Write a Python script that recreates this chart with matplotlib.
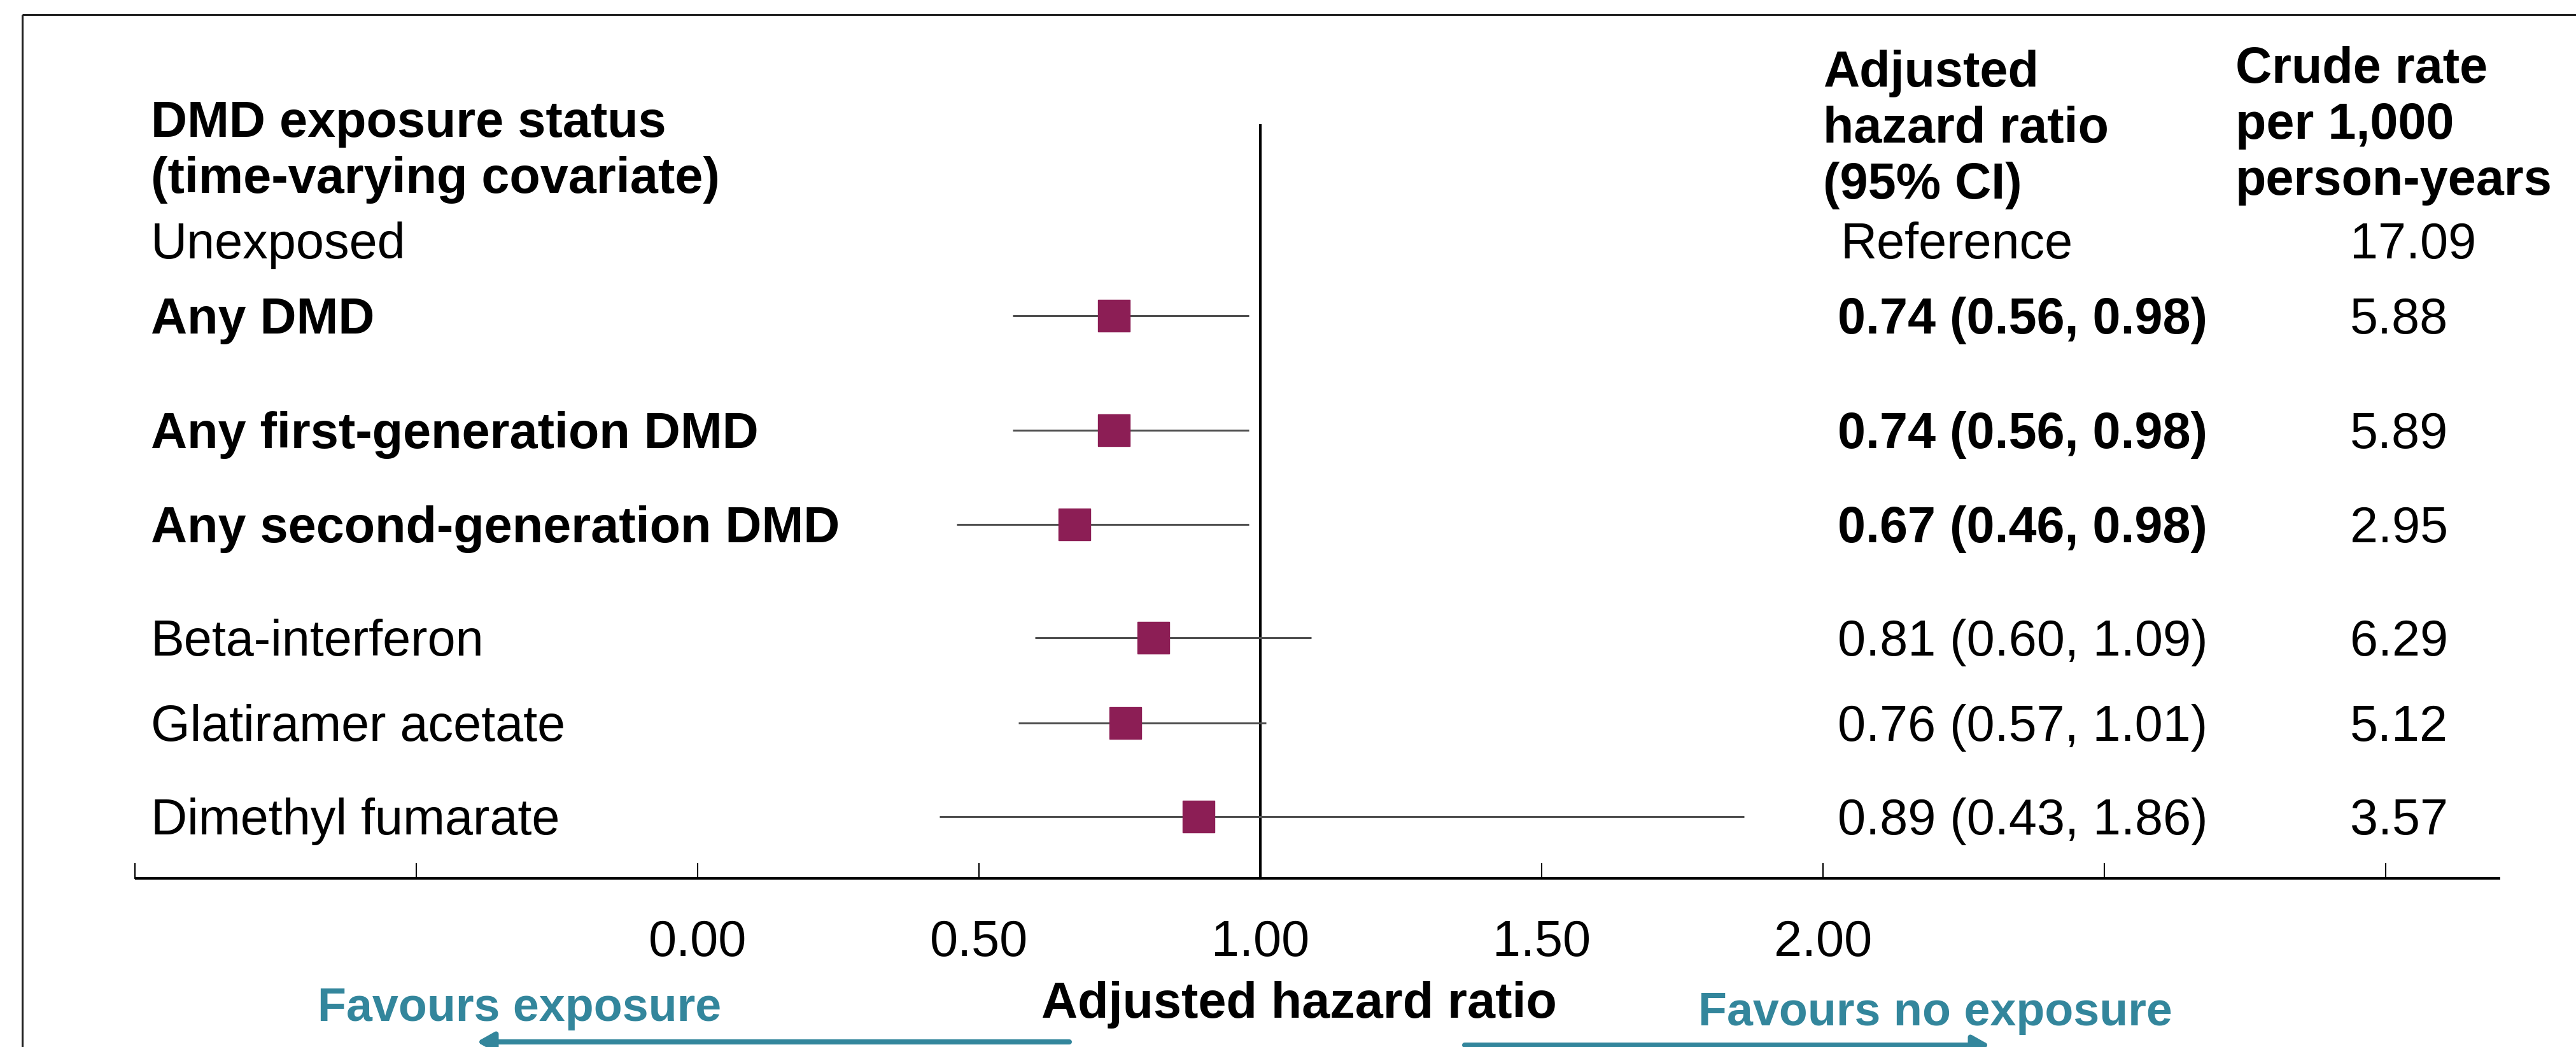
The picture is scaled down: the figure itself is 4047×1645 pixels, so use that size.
import matplotlib
matplotlib.use("Agg")
import matplotlib.pyplot as plt
from matplotlib.patches import FancyArrowPatch

plt.rcParams['font.family'] = ['Liberation Sans', 'DejaVu Sans']

# data
labels = ["Unexposed", "Any DMD", "Any first-generation DMD",
          "Any second-generation DMD", "Beta-interferon",
          "Glatiramer acetate", "Dimethyl fumarate"]
is_bold = [False, True, True, True, False, False, False]
hr = [None, 0.74, 0.74, 0.67, 0.81, 0.76, 0.89]
ci_low = [None, 0.56, 0.56, 0.46, 0.60, 0.57, 0.43]
ci_high = [None, 0.98, 0.98, 0.98, 1.09, 1.01, 1.86]
crude_rate = ["17.09", "5.88", "5.89", "2.95", "6.29", "5.12", "3.57"]

tick_values = [-1.0, -0.5, 0.0, 0.5, 1.0, 1.5, 2.0, 2.5, 3.0]
tick_labels = ["0.00", "0.50", "1.00", "1.50", "2.00"]
labelled_ticks = [0.0, 0.5, 1.0, 1.5, 2.0]

# layout (pixels from the top, figure is 4048 x 1645)
W, H = 4048, 1645
X_ONE = 1980          # pixel of HR = 1
PX_PER_UNIT = 884
row_y = [378, 496, 676, 824, 1002, 1136, 1283]
AXIS_Y = 1380
MAROON = "#8C1E55"
TEAL = "#33869C"
FS = 57


def px(x):
    # pixel column -> HR units
    return 1 + (x - X_ONE) / PX_PER_UNIT


fig = plt.figure(figsize=(W / 100, H / 100), dpi=100)
ax = fig.add_axes([0, 0, 1, 1])
ax.set_xlim(px(0), px(W))
ax.set_ylim(H, 0)
ax.axis('off')

# frame lines at top and left
ax.plot([px(35), px(W)], [23, 23], color="#222222", lw=2.2, solid_capstyle='butt')
ax.plot([px(35), px(35)], [23, H], color="#222222", lw=2.2, solid_capstyle='butt')

# headers
ax.text(px(237), 215, "DMD exposure status", fontsize=FS, fontweight='bold')
ax.text(px(237), 303, "(time-varying covariate)", fontsize=FS, fontweight='bold')
for i, line in enumerate(["Adjusted", "hazard ratio", "(95% CI)"]):
    ax.text(px(2864), 136 + i * 88, line, fontsize=FS, fontweight='bold')
for i, line in enumerate(["Crude rate", "per 1,000", "person-years"]):
    ax.text(px(3512), 130 + i * 88, line, fontsize=FS, fontweight='bold')

# reference line at HR = 1
ax.plot([1, 1], [197, AXIS_Y], color="black", lw=3.0, zorder=2)

# rows
for i, name in enumerate(labels):
    y = row_y[i]
    w = 'bold' if is_bold[i] else 'normal'
    ax.text(px(237), y + 28, name, fontsize=FS, fontweight=w)
    if hr[i] is None:
        ax.text(px(2892), y + 28, "Reference", fontsize=FS)
    else:
        ax.plot([ci_low[i], ci_high[i]], [y, y], color="#4f4f4f", lw=2.2,
                solid_capstyle='butt', zorder=3)
        ax.plot(hr[i], y, 's', ms=36, color=MAROON, mec=MAROON, zorder=4)
        txt = f"{hr[i]:.2f} ({ci_low[i]:.2f}, {ci_high[i]:.2f})"
        ax.text(px(2887), y + 28, txt, fontsize=FS, fontweight=w)
    ax.text(px(3692), y + 28, crude_rate[i], fontsize=FS)

# x axis
ax.plot([tick_values[0], px(3928)], [AXIS_Y, AXIS_Y], color="black", lw=3.0,
        solid_capstyle='butt')
for t in tick_values:
    ax.plot([t, t], [AXIS_Y - 23, AXIS_Y], color="black", lw=1.5)
for t, lab in zip(labelled_ticks, tick_labels):
    ax.text(t, 1502, lab, fontsize=FS, ha='center')

ax.text(px(2041), 1599, "Adjusted hazard ratio", fontsize=FS, fontweight='bold',
        ha='center')
ax.text(px(816), 1604, "Favours exposure", fontsize=53, fontweight='bold',
        ha='center', color=TEAL)
ax.text(px(3040), 1611, "Favours no exposure", fontsize=53, fontweight='bold',
        ha='center', color=TEAL)

# direction arrows
for start, end, y in [(px(1680), px(749), 1637), (px(2301), px(3126), 1642)]:
    arr = FancyArrowPatch((start, y), (end, y),
                          arrowstyle='-|>,head_length=0.8,head_width=0.45',
                          mutation_scale=20, lw=5.8, color=TEAL,
                          shrinkA=0, shrinkB=0)
    ax.add_patch(arr)

fig.savefig("out.png", dpi=100, facecolor="white")
